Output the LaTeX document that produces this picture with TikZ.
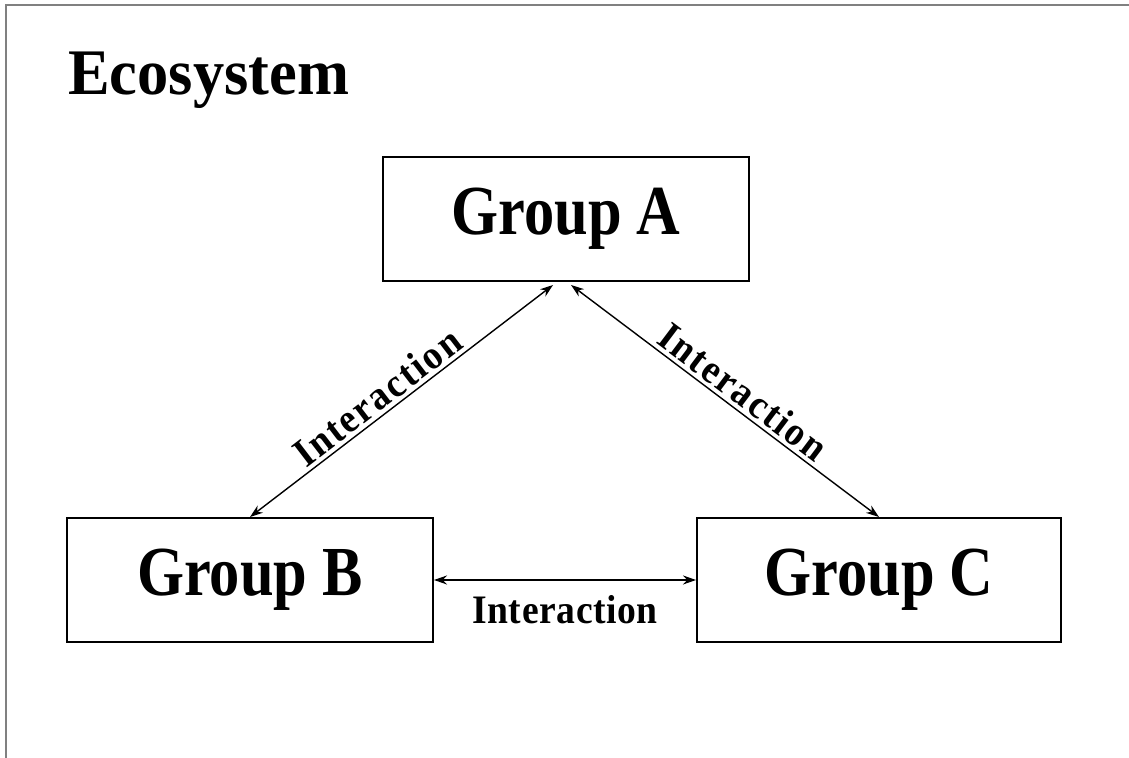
\documentclass[tikz,border=0pt]{standalone}
\usepackage{fontspec}
\setmainfont{Liberation Serif}
\newfontfamily\titlefont[FakeStretch=0.96]{Liberation Serif}
\newfontfamily\groupfont[FakeStretch=0.86]{Liberation Serif}
\newfontfamily\linkfont[FakeStretch=0.93,LetterSpace=1.5]{Liberation Serif}
\newfontfamily\slopefont[FakeStretch=0.93,LetterSpace=5]{Liberation Serif}
\usetikzlibrary{arrows.meta}
\tikzset{
	groupbox/.style={draw, line width=1.1pt, minimum width=7.32cm, minimum height=2.48cm,
		font=\groupfont\bfseries\fontsize{40}{44}\selectfont},
	link/.style={{Stealth[length=0.26cm,width=0.18cm]}-{Stealth[length=0.26cm,width=0.18cm]}, line width=0.8pt},
	linklabel/.style={font=\linkfont\bfseries\fontsize{23}{26}\selectfont, inner sep=1pt},
	slopelabel/.style={font=\slopefont\bfseries\fontsize{23}{26}\selectfont, inner sep=2pt, sloped, above}
}
\begin{document}
\begin{tikzpicture}
	\useasboundingbox (0,0) rectangle (22.58,15.16);
	% Frame
	\draw[gray, line width=1.2pt] (0.12,0) -- (0.12,15.06) -- (22.58,15.06);
	\node[anchor=base west, inner sep=0pt, font=\titlefont\bfseries\fontsize{37}{40}\selectfont] (title) at (1.36,13.26) {Ecosystem};
	% Groups
	\node[groupbox] (A) at (11.32,10.78) {Group A};
	\node[groupbox] (B) at (5.0,3.56) {Group B};
	\node[groupbox, minimum width=7.28cm] (C) at (17.58,3.56) {Group C};
	% Interactions
	\draw[link, shorten <=0.1cm] ([xshift=-0.18cm]A.south) -- (B.north)
		node[slopelabel, pos=0.55] {Interaction};
	\draw[link, shorten <=0.1cm] ([xshift=0.02cm]A.south) -- (C.north)
		node[slopelabel, pos=0.53] {Interaction};
	\draw[link] (B.east) -- (C.west)
		node[linklabel, below=0.25cm, midway] {Interaction};
\end{tikzpicture}
\end{document}
